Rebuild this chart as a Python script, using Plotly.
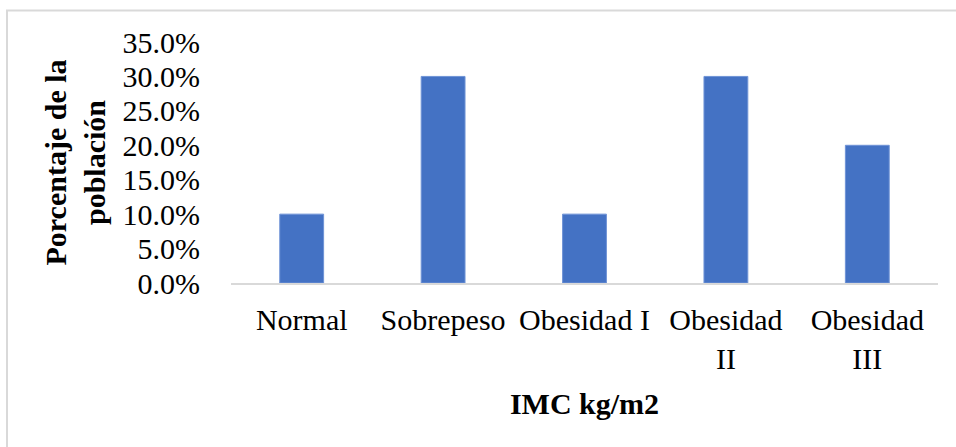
import plotly.graph_objects as go

# IMC categories and share of the population in each
categorias = ["Normal", "Sobrepeso", "Obesidad I", "Obesidad<br>II", "Obesidad<br>III"]
porcentajes = [0.10, 0.30, 0.10, 0.30, 0.20]

y_ticks = [0.0, 0.05, 0.10, 0.15, 0.20, 0.25, 0.30, 0.35]

FONT = "Liberation Serif, Times New Roman, serif"
BAR = "#4472C4"
FS = 30

fig = go.Figure(
    go.Bar(
        x=categorias,
        y=porcentajes,
        marker=dict(color=BAR, line=dict(color="#6f93d6", width=1)),
        width=0.31,
    )
)

W, H = 956, 447
L, R, T, B = 231, 18, 41.5, 164
pw, ph = W - L - R, H - T - B

fig.update_layout(
    width=W,
    height=H,
    margin=dict(l=L, r=R, t=T, b=B, autoexpand=False),
    paper_bgcolor="white",
    plot_bgcolor="white",
    font=dict(family=FONT, size=FS, color="black"),
    showlegend=False,
    shapes=[
        # outer chart frame
        dict(
            type="rect", xref="paper", yref="paper",
            x0=(7 - L) / pw, x1=(W + 10 - L) / pw,
            y0=-(H + 10 - (H - B)) / ph, y1=((H - B) - 10) / ph,
            line=dict(color="#d9d9d9", width=2),
            layer="below",
        )
    ],
)

fig.update_xaxes(
    showline=True,
    linecolor="#d9d9d9",
    linewidth=2,
    showgrid=False,
    ticks="",
    tickfont=dict(size=FS),
    ticklabelstandoff=9,
    title=dict(text="<b>IMC kg/m2</b>", font=dict(size=FS), standoff=19),
    automargin=False,
)

fig.update_yaxes(
    range=[0, 0.35],
    tickvals=y_ticks,
    tickformat=".1%",
    showgrid=False,
    showline=False,
    zeroline=False,
    ticks="",
    tickfont=dict(size=FS),
    ticklabelstandoff=30,
    title=dict(text="<b>Porcentaje de la<br>población</b>", font=dict(size=FS), standoff=8),
    automargin=False,
)

fig.write_html("out.html")
